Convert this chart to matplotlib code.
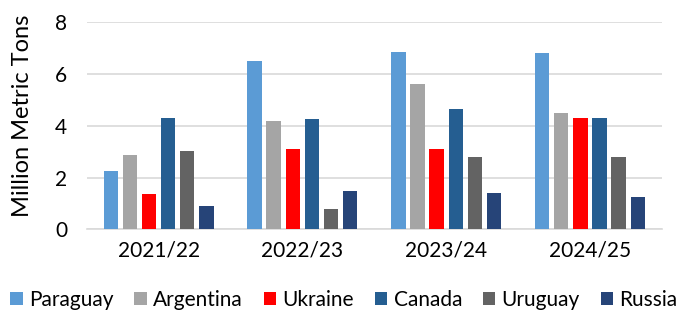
import numpy as np
import matplotlib
matplotlib.use("Agg")
import matplotlib.pyplot as plt

seasons = ["2021/22", "2022/23", "2023/24", "2024/25"]
countries = ["Paraguay", "Argentina", "Ukraine", "Canada", "Uruguay", "Russia"]
paraguay = [2.25, 6.49, 6.85, 6.81]
argentina = [2.86, 4.18, 5.60, 4.49]
ukraine = [1.36, 3.09, 3.09, 4.30]
canada = [4.29, 4.25, 4.64, 4.30]
uruguay = [3.03, 0.77, 2.79, 2.79]
russia = [0.89, 1.49, 1.39, 1.25]
colors = ["#5B9BD5", "#A5A5A5", "#FF0000", "#255E91", "#636363", "#264478"]

series = [paraguay, argentina, ukraine, canada, uruguay, russia]

plt.rcParams["font.family"] = ["Lato", "DejaVu Sans"]
fig = plt.figure(figsize=(6.88, 3.16), dpi=100)
ax = fig.add_axes([0.126, 0.274, 0.836, 0.656])

x = np.arange(len(seasons))
slot = 0.133
for i, (name, vals) in enumerate(zip(countries, series)):
    ax.bar(x + (i - 2.5) * slot, vals, width=0.1, color=colors[i], label=name,
           zorder=3)

ax.set_xlim(-0.5, 3.5)
ax.set_ylim(0, 8)
ax.set_yticks([0, 2, 4, 6, 8])
ax.set_xticks(x)
ax.set_xticklabels(seasons)
ax.grid(axis="y", color="#D9D9D9", linewidth=1.2, zorder=0)
for s in ["top", "right", "left"]:
    ax.spines[s].set_visible(False)
ax.spines["bottom"].set_color("#D9D9D9")
ax.spines["bottom"].set_linewidth(1.2)
ax.tick_params(axis="y", length=0, labelsize=15, pad=14)
ax.tick_params(axis="x", length=0, labelsize=15, pad=8)
ax.set_ylabel("Million Metric Tons", fontsize=17)
ax.yaxis.set_label_coords(-0.093, 0.55)

fig.legend(loc="center", bbox_to_anchor=(0.5, 0.05), ncol=6, frameon=False,
           fontsize=15, handlelength=0.6, handleheight=0.6, handletextpad=0.3,
           columnspacing=1.0)

fig.savefig("out.png", dpi=100)
